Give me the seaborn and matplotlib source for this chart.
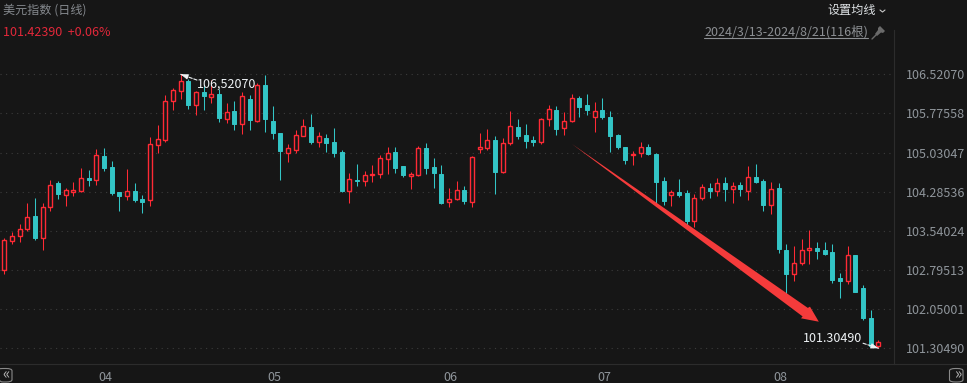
import matplotlib
matplotlib.use("Agg")
import numpy as np
import pandas as pd
import matplotlib.pyplot as plt
import seaborn as sns
from matplotlib.lines import Line2D
from matplotlib.patches import Polygon, FancyBboxPatch
from matplotlib.transforms import ScaledTranslation

# daily candles
opens = [102.80,103.35,103.43,103.58,103.82,103.41,104.00,104.45,104.23,104.28,
         104.29,104.54,104.51,104.96,104.75,104.28,104.21,104.30,104.14,104.12,
         105.18,105.27,106.02,106.21,106.39,105.94,106.18,106.09,106.15,105.67,
         105.82,105.58,106.05,105.64,106.32,105.63,105.40,105.03,105.08,105.35,
         105.52,105.24,105.31,105.23,105.04,104.30,104.50,104.49,104.60,104.63,
         104.91,105.04,104.77,104.58,104.60,105.11,104.75,104.62,104.09,104.14,
         104.31,104.09,105.10,105.11,105.27,104.66,105.22,105.52,105.36,105.27,
         105.24,105.66,105.84,105.50,105.64,106.07,105.94,105.71,105.84,105.71,
         105.36,105.13,104.99,105.03,105.13,105.00,104.48,104.22,104.27,104.25,
         103.73,104.16,104.35,104.30,104.45,104.34,104.41,104.30,104.56,104.48,
         104.03,104.35,103.17,102.72,102.92,103.18,103.22,103.17,103.13,102.63,
         102.58,103.07,102.44,101.87,101.35]
closes = [103.37,103.44,103.58,103.81,103.40,104.00,104.42,104.24,104.31,104.31,
          104.54,104.51,104.98,104.73,104.26,104.20,104.29,104.12,104.09,105.19,
          105.28,106.02,106.22,106.39,105.94,106.18,106.11,106.14,105.69,105.81,
          105.57,106.10,105.65,106.31,105.67,105.40,105.06,105.11,105.36,105.53,
          105.23,105.34,105.21,105.02,104.29,104.52,104.49,104.61,104.63,104.92,
          105.03,104.73,104.60,104.62,105.11,104.73,104.64,104.07,104.15,104.31,
          104.10,104.94,105.13,105.26,104.66,105.22,105.53,105.34,105.25,105.23,
          105.66,105.85,105.48,105.64,106.06,105.90,105.84,105.83,105.71,105.34,
          105.13,104.89,105.01,105.13,105.00,104.47,104.10,104.27,104.22,103.72,
          104.17,104.38,104.29,104.44,104.33,104.39,104.33,104.57,104.46,104.03,
          104.34,103.20,102.71,102.93,103.18,103.22,103.15,103.10,102.61,102.59,
          103.07,102.38,101.87,101.35,101.42]
highs = [103.41,103.51,103.66,104.06,104.16,104.06,104.50,104.49,104.35,104.47,
         104.73,104.70,105.10,105.12,104.87,104.28,104.71,104.45,104.22,105.32,
         105.55,106.13,106.26,106.52,106.44,106.20,106.32,106.41,106.25,105.97,
         106.01,106.19,106.13,106.36,106.51,105.92,105.40,105.20,105.46,105.66,
         105.76,105.42,105.38,105.50,105.08,104.64,104.81,104.67,104.79,104.98,
         105.13,105.13,104.77,104.65,105.15,105.21,104.92,104.79,104.35,104.49,
         104.39,104.96,105.40,105.48,105.34,105.31,105.82,105.67,105.57,105.34,
         105.68,105.94,105.92,105.80,106.15,106.11,106.15,105.99,106.07,105.82,
         105.38,105.13,105.06,105.23,105.19,105.02,104.56,104.32,104.52,104.31,
         104.24,104.43,104.45,104.54,104.56,104.46,104.46,104.77,104.81,104.52,
         104.46,104.45,103.28,103.24,103.38,103.55,103.32,103.32,103.28,102.73,
         103.24,103.07,102.50,102.02,101.46]
lows = [102.72,103.28,103.33,103.54,103.36,103.17,103.92,104.14,104.01,104.20,
        104.28,104.39,104.41,104.68,104.23,103.91,104.12,104.09,103.88,104.01,
        105.02,105.23,105.84,106.05,105.86,105.74,105.84,105.97,105.61,105.59,
        105.46,105.38,105.46,105.61,105.42,105.29,104.50,104.85,105.02,105.34,
        105.19,105.13,105.04,104.94,104.28,104.07,104.39,104.39,104.47,104.54,
        104.62,104.64,104.56,104.33,104.59,104.62,104.35,104.05,103.99,104.13,
        104.05,103.99,105.02,105.08,104.24,104.64,105.17,105.29,105.11,105.15,
        105.19,105.53,105.36,105.36,105.61,105.71,105.74,105.42,105.67,105.04,
        105.10,104.81,104.79,104.94,104.98,104.06,104.03,104.01,104.18,103.64,
        103.62,104.13,104.16,104.20,104.10,104.06,104.20,104.12,104.45,103.91,
        103.85,103.11,102.31,102.59,102.88,102.90,103.01,103.07,102.54,102.25,
        102.52,102.37,101.83,101.34,101.30]

price_ticks = [106.52070,105.77558,105.03047,104.28536,103.54024,102.79513,102.05001,101.30490]
month_pos = [12, 34, 57, 77, 100]
month_labels = ["04", "05", "06", "07", "08"]

BG = "#161616"
RED = "#ff2a35"
CYAN = "#33c5c6"
WHITE = "#eef2f5"
W, H = 967, 383


def px(x, y):
    """picture pixels to figure fractions"""
    return x / W, 1 - y / H


def marker_arrow(ax, xy, dx, dy):
    """dashed tail plus a solid little head, tail offset given in points"""
    ax.annotate("", xy=xy, xycoords="data", xytext=(dx, dy), textcoords="offset points",
                arrowprops=dict(arrowstyle="-", color=WHITE, lw=0.8, ls=(0, (3, 1.5)),
                                shrinkA=0, shrinkB=0), annotation_clip=False)
    ax.annotate("", xy=xy, xycoords="data", xytext=(dx * 0.45, dy * 0.45), textcoords="offset points",
                arrowprops=dict(arrowstyle="-|>,head_width=0.16,head_length=0.45", mutation_scale=10,
                                color=WHITE, lw=0.6, shrinkA=0, shrinkB=0), annotation_clip=False)


sns.set_theme(style="dark", rc={"figure.facecolor": BG, "axes.facecolor": BG})
plt.rcParams["font.family"] = ["Noto Sans CJK SC", "DejaVu Sans"]

df = pd.DataFrame({"idx": np.arange(len(opens)), "open": opens, "close": closes,
                   "high": highs, "low": lows})
df["dir"] = np.where(df["close"] >= df["open"], "up", "down")
df["body"] = (df["close"] - df["open"]).abs().clip(lower=0.01)
df["bottom"] = df[["open", "close"]].min(axis=1)

fig = plt.figure(figsize=(W / 100, H / 100), dpi=100)
ax = fig.add_axes([0, (H - 364) / H, 894 / W, (364 - 30) / H])

# wicks
wicks = df.melt(id_vars=["idx", "dir"], value_vars=["high", "low"], value_name="price")
sns.lineplot(data=wicks, x="idx", y="price", units="idx", estimator=None, hue="dir",
             palette={"up": RED, "down": CYAN}, linewidth=0.75, legend=False, ax=ax,
             solid_capstyle="butt", zorder=2)

# bodies: cyan filled, red hollow
down = df[df["dir"] == "down"]
up = df[df["dir"] == "up"]
sns.barplot(data=down, x="idx", y="body", bottom=down["bottom"].values, native_scale=True,
            errorbar=None, width=0.55, color=CYAN, saturation=1, edgecolor=CYAN,
            linewidth=0.7, zorder=3, ax=ax)
sns.barplot(data=up, x="idx", y="body", bottom=up["bottom"].values, native_scale=True,
            errorbar=None, width=0.52, color=BG, saturation=1, edgecolor=RED,
            linewidth=1.0, zorder=3, ax=ax)

ax.set_xlim(-0.565, 116.04)
ax.set_ylim(100.9999, 107.365)
ax.set_xlabel("")
ax.set_ylabel("")

ax.yaxis.tick_right()
ax.set_yticks(price_ticks, [f"{v:.5f}" for v in price_ticks])
ax.set_xticks(month_pos, month_labels)
ax.grid(axis="y", color="#3c3c3c", linewidth=0.8, linestyle=(0, (1, 4)))
ax.grid(axis="x", visible=False)
ax.set_axisbelow(True)
ax.tick_params(axis="y", length=0, pad=8.4, labelsize=9, labelcolor="#8f959b")
ax.tick_params(axis="x", length=4, width=0.7, color="#333333", direction="inout",
               pad=3, labelsize=9, labelcolor="#8f959b")
# month labels sit to the right of their tick
for lab in ax.get_xticklabels():
    lab.set_transform(lab.get_transform() + ScaledTranslation(9.3 / 100, 0, fig.dpi_scale_trans))
for name in ["top", "left"]:
    ax.spines[name].set_visible(False)
for name in ["right", "bottom"]:
    ax.spines[name].set_color("#2c2c2c")
    ax.spines[name].set_linewidth(0.8)
fig.add_artist(Line2D([894 / W, 1], [(H - 364) / H] * 2, color="#2c2c2c", lw=0.8))

# white extreme markers
fig.text(197 / W, 1 - 84 / H, "106,52070", color=WHITE, fontsize=9, va="center", ha="left")
fig.text(862.5 / W, 1 - 339 / H, "101.30490", color=WHITE, fontsize=9, va="center", ha="right")
marker_arrow(ax, (23, highs[23]), 11.7, -4.1)
marker_arrow(ax, (114, lows[114]), -11, 3.6)

# big red arrow drawn over the chart
arrow = [(572, 144), (807.8, 307.9), (810, 306.7), (818.8, 321.7), (801, 318.3), (802.6, 316.4)]
fig.add_artist(Polygon([px(*p) for p in arrow], closed=True, transform=fig.transFigure,
                       facecolor="#f53b3b", edgecolor="none", zorder=6))

# header texts
fig.text(3 / W, 1 - 10 / H, "美元指数 (日线)", color="#85898e", fontsize=8.7, va="center")
fig.text(3 / W, 1 - 32 / H, "101.42390  +0.06%", color="#e2283a", fontsize=9, va="center")
fig.text(827 / W, 1 - 10 / H, "设置均线", color="#dfe3e6", fontsize=8.7, va="center")
fig.add_artist(Line2D([880 / W, 882.5 / W, 885 / W], [1 - 10 / H, 1 - 12 / H, 1 - 10 / H],
                      color="#c8c8c8", lw=0.8))
fig.text(704 / W, 1 - 32 / H, "2024/3/13-2024/8/21(116根)", color="#8c8f93", fontsize=9,
         va="center")
fig.add_artist(Line2D([704 / W, 868 / W], [1 - 38 / H] * 2, color="#8c8f93", lw=0.8))

# pin icon
pin = [(880, 26), (885, 31), (883, 33), (881, 32.5), (877, 36), (875, 34), (878, 30), (878, 28)]
fig.add_artist(Polygon([px(*p) for p in pin], closed=True, transform=fig.transFigure,
                       facecolor="#6a6a6a", edgecolor="none"))
fig.add_artist(Line2D([876 / W, 872 / W], [1 - 35 / H, 1 - 39 / H], color="#6a6a6a", lw=1))

# scroll buttons at the bottom corners
for x0, x1, lab in [(-3, 12, "«"), (949.5, 963, "»")]:
    x_f, y_f = px(x0, 382)
    fig.add_artist(FancyBboxPatch((x_f, y_f), (x1 - x0) / W, 13.5 / H, transform=fig.transFigure,
                                  boxstyle="round,pad=0,rounding_size=0.006", facecolor="none",
                                  edgecolor="#8a8a8a", lw=0.8))
    fig.text((x0 + x1) / 2 / W + (0.002 if x0 > 0 else 0.001), 1 - 374.5 / H, lab, color="#b5b5b5",
             fontsize=11, va="center", ha="center")

fig.savefig("out.png", dpi=100, facecolor=BG)
